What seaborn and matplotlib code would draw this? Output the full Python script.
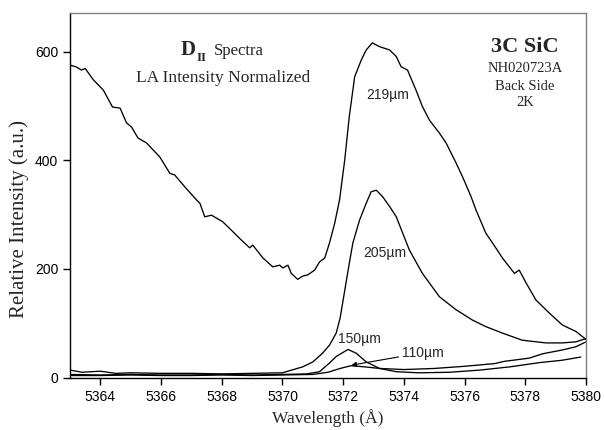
import numpy as np
import pandas as pd
import matplotlib
matplotlib.use("Agg")
import matplotlib.pyplot as plt
import seaborn as sns

# ---- data ----
x219 = [5363.0, 5363.2, 5363.38, 5363.5, 5363.77, 5364.1, 5364.4, 5364.65, 5364.86, 5365.03,
        5365.24, 5365.52, 5365.96, 5366.29, 5366.45, 5366.8, 5367.17, 5367.28, 5367.44, 5367.66,
        5368.03, 5368.36, 5368.65, 5368.92, 5369.02, 5369.36, 5369.68, 5369.91, 5370.01, 5370.18,
        5370.29, 5370.5, 5370.67, 5370.83, 5371.06, 5371.22, 5371.39, 5371.55, 5371.72, 5371.88,
        5372.05, 5372.2, 5372.38, 5372.6, 5372.76, 5372.96, 5373.2, 5373.53, 5373.75, 5373.91,
        5374.12, 5374.4, 5374.61, 5374.84, 5375.17, 5375.39, 5375.72, 5375.93, 5376.2, 5376.38,
        5376.7, 5376.92, 5377.25, 5377.64, 5377.8, 5378.03, 5378.35, 5378.79, 5379.22, 5379.67,
        5379.94, 5380.0]
y219 = [575, 572, 566, 569, 548, 529, 498, 496, 469, 461,
        441, 432, 406, 376, 373, 350, 327, 321, 296, 299,
        287, 269, 253, 239, 244, 220, 204, 207, 202, 207,
        192, 181, 187, 189, 198, 213, 220, 248, 284, 327,
        400, 480, 554, 585, 603, 616, 609, 603, 591, 572,
        566, 529, 499, 474, 450, 432, 395, 370, 335, 308,
        266, 248, 220, 192, 198, 174, 143, 119, 97, 85,
        73, 70]

x205 = [5363.0, 5363.4, 5364.0, 5364.5, 5365.0, 5366.0, 5367.0, 5368.0, 5369.0, 5370.0,
        5370.24, 5370.67, 5371.0, 5371.32, 5371.55, 5371.77, 5371.9, 5372.05, 5372.2, 5372.32,
        5372.54, 5372.76, 5372.92, 5373.09, 5373.3, 5373.53, 5373.75, 5374.18, 5374.61, 5375.17,
        5375.72, 5376.26, 5376.7, 5377.25, 5377.9, 5378.68, 5379.22, 5379.67, 5380.0]
y205 = [14, 10, 12, 8, 9, 8, 8, 7, 8, 9,
        13, 20, 29, 45, 60, 82, 110, 160, 210, 248,
        290, 321, 342, 345, 333, 315, 296, 235, 192, 149,
        125, 106, 94, 82, 69, 64, 64, 66, 72]

x150 = [5363.0, 5364.0, 5365.0, 5366.0, 5367.0, 5368.0, 5369.0, 5370.0, 5370.8, 5371.22,
        5371.55, 5371.77, 5372.16, 5372.43, 5372.76, 5373.2, 5373.75, 5374.5, 5375.5, 5376.5,
        5377.5, 5378.5, 5379.2, 5379.83]
y150 = [6, 5, 6, 5, 5, 6, 5, 6, 7, 11,
        27, 39, 52, 45, 29, 17, 11, 9, 10, 14,
        20, 28, 32, 38]

x110 = [5363.0, 5364.0, 5365.0, 5366.0, 5367.0, 5368.0, 5369.0, 5370.0, 5371.0, 5371.5,
        5371.9, 5372.25, 5372.7, 5373.2, 5374.0, 5375.0, 5376.0, 5377.0, 5377.3, 5378.13,
        5378.57, 5379.22, 5379.67, 5380.0]
y110 = [4, 4, 5, 4, 4, 5, 4, 5, 6, 10,
        17, 22, 20, 17, 15, 17, 21, 26, 30, 36,
        44, 51, 57, 66]

series_names = ["219µm", "205µm", "150µm", "110µm"]
xticks = [5364, 5366, 5368, 5370, 5372, 5374, 5376, 5378, 5380]
yticks = [0, 200, 400, 600]

frames = []
for name, xs, ys in zip(series_names, [x219, x205, x150, x110], [y219, y205, y150, y110]):
    frames.append(pd.DataFrame({"wl": xs, "I": ys, "s": name}))
df = pd.concat(frames, ignore_index=True)

# ---- style ----
sns.set_style("ticks")
plt.rcParams["font.family"] = ["Liberation Sans", "DejaVu Sans"]
SERIF = ["Liberation Serif", "DejaVu Serif"]

fig = plt.figure(figsize=(6.04, 4.30), dpi=100)
ax = fig.add_axes([70 / 604, 1 - 377.7 / 430, (586 - 70) / 604, (377.7 - 13) / 430])

sns.lineplot(data=df, x="wl", y="I", units="s", estimator=None, sort=False,
             color="black", linewidth=0.95, ax=ax, legend=False)

ax.set_xlim(5363, 5380)
ax.set_ylim(0, 671)
ax.set_xticks(xticks)
ax.set_yticks(yticks)
ax.tick_params(direction="out", length=5, width=1, colors="black", labelsize=10)
for lab in ax.get_xticklabels() + ax.get_yticklabels():
    lab.set_family(["Liberation Sans", "DejaVu Sans"])

for sp in ["left", "bottom"]:
    ax.spines[sp].set_color("black")
    ax.spines[sp].set_linewidth(1.0)
for sp in ["top", "right"]:
    ax.spines[sp].set_visible(True)
    ax.spines[sp].set_color("#7f7f7f")
    ax.spines[sp].set_linewidth(1.0)

ax.set_xlabel("Wavelength (Å)", family=SERIF, fontsize=12.5, labelpad=4)
ax.set_ylabel("Relative Intensity (a.u.)", family=SERIF, fontsize=15)
ax.yaxis.set_label_coords(-0.08, 0.435)

# ---- curve labels ----
ax.text(5373.46, 520, "219µm", ha="center", va="center", fontsize=10)
ax.text(5373.36, 229, "205µm", ha="center", va="center", fontsize=10)
ax.text(5372.54, 71, "150µm", ha="center", va="center", fontsize=10)
ax.annotate("110µm", xy=(5372.27, 23), xytext=(5373.93, 46), ha="left", va="center",
            fontsize=10,
            arrowprops=dict(arrowstyle="-|>", color="black", lw=0.8,
                            mutation_scale=7, shrinkA=0, shrinkB=0))

# ---- titles ----
def ftxt(px, py, s, **kw):
    fig.text(px / 604, 1 - py / 430, s, va="baseline", **kw)

ftxt(188, 55, "D", ha="center", family=SERIF, fontsize=15, fontweight="bold")
ftxt(197, 61, "II", ha="left", family=SERIF, fontsize=9.5, fontweight="bold")
ftxt(214, 55, "Spectra", ha="left", family=SERIF, fontsize=12)
ftxt(223, 82.5, "LA Intensity Normalized", ha="center", family=SERIF, fontsize=12.5)

ftxt(525, 51.5, "3C SiC", ha="center", family=SERIF, fontsize=16, fontweight="bold")
ftxt(525, 72.5, "NH020723A", ha="center", family=SERIF, fontsize=10.5)
ftxt(525, 89.5, "Back Side", ha="center", family=SERIF, fontsize=10.5)
ftxt(525, 106.5, "2K", ha="center", family=SERIF, fontsize=10.5)

fig.savefig("out.png", dpi=100)
